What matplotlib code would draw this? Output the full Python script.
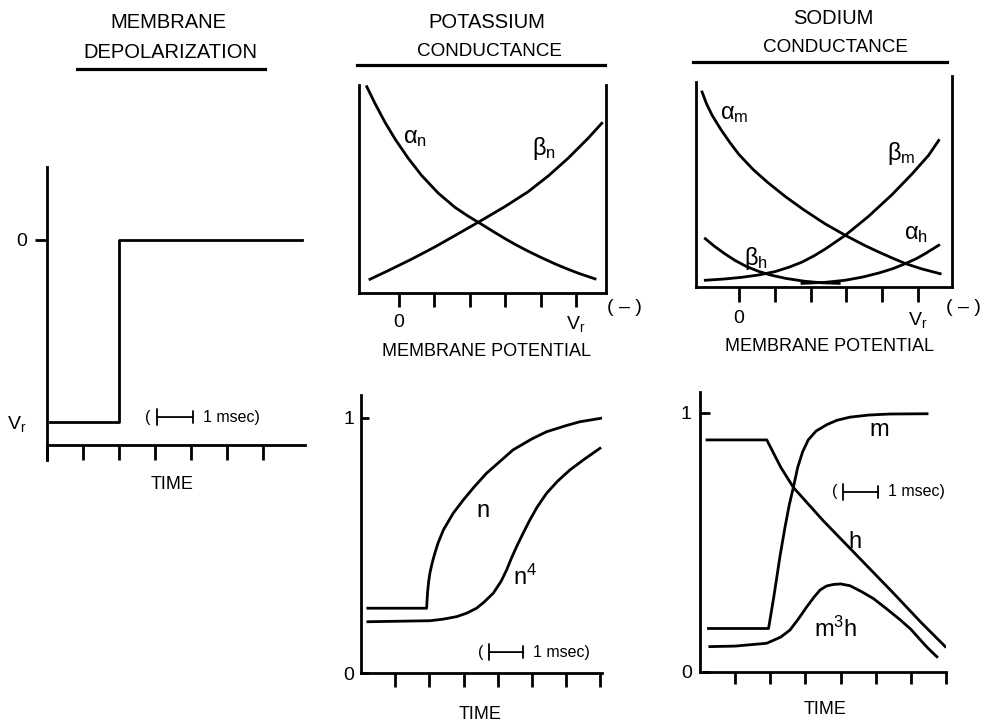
import matplotlib
matplotlib.use('Agg')
import matplotlib.pyplot as plt
from matplotlib.lines import Line2D

plt.rcParams['font.family'] = ['Liberation Sans', 'DejaVu Sans']
plt.rcParams['mathtext.fontset'] = 'custom'
plt.rcParams['mathtext.rm'] = 'Liberation Sans'
plt.rcParams['mathtext.it'] = 'Liberation Sans'
plt.rcParams['mathtext.bf'] = 'Liberation Sans:bold'

# ---------------- data ----------------
# Membrane depolarization (time in ticks, level: Vr=-1, 0=0)
dep_t = [0.08, 2.0, 7.08]
dep_v = [-1, 0, 0]

# Potassium rate constants vs membrane potential (tick units, 0 .. Vr=5)
an_x = [-0.91, -0.68, -0.40, -0.11, 0.26, 0.64, 1.11, 1.58, 1.95, 2.29, 2.65, 2.99, 3.3, 3.65, 4.0, 4.41, 4.75, 5.07, 5.54]
an_y = [0.992, 0.912, 0.822, 0.740, 0.648, 0.565, 0.480, 0.412, 0.370, 0.335, 0.297, 0.262, 0.232, 0.201, 0.172, 0.140, 0.116, 0.095, 0.068]
bn_x = [-0.82, -0.30, 0.36, 1.02, 1.58, 2.29, 2.99, 3.65, 4.22, 4.78, 5.35, 5.73]
bn_y = [0.066, 0.108, 0.163, 0.222, 0.276, 0.345, 0.415, 0.487, 0.563, 0.648, 0.745, 0.816]

# Sodium rate constants vs membrane potential
am_x = [-1.03, -0.9, -0.75, -0.5, -0.25, 0.0, 0.4, 0.8, 1.3, 1.8, 2.4, 2.97, 3.5, 3.9, 4.3, 4.65, 5.1, 5.62]
am_y = [0.924, 0.866, 0.814, 0.745, 0.684, 0.628, 0.556, 0.496, 0.428, 0.367, 0.300, 0.245, 0.198, 0.166, 0.136, 0.111, 0.086, 0.063]
bm_x = [-0.94, -0.4, 0.08, 0.55, 1.01, 1.4, 1.76, 2.1, 2.41, 2.97, 3.62, 4.27, 4.83, 5.30, 5.58]
bm_y = [0.032, 0.038, 0.046, 0.057, 0.073, 0.094, 0.118, 0.148, 0.180, 0.245, 0.335, 0.437, 0.535, 0.625, 0.695]
bh_x = [-0.94, -0.7, -0.4, -0.1, 0.2, 0.55, 0.9, 1.3, 1.8, 2.3, 2.8]
bh_y = [0.229, 0.195, 0.158, 0.125, 0.098, 0.074, 0.056, 0.041, 0.028, 0.020, 0.017]
ah_x = [1.76, 2.4, 2.97, 3.45, 3.9, 4.3, 4.65, 4.95, 5.2, 5.58]
ah_y = [0.017, 0.022, 0.032, 0.047, 0.066, 0.087, 0.111, 0.134, 0.158, 0.198]

# Potassium conductance time course
n_t = [0.2, 1.92, 1.93, 1.95, 1.98, 2.02, 2.08, 2.15, 2.25, 2.41, 2.7, 2.99, 3.3, 3.67, 4.0, 4.45, 5.0, 5.43, 6.0, 6.4, 7.03]
n_v = [0.254, 0.254, 0.28, 0.32, 0.36, 0.395, 0.43, 0.465, 0.508, 0.561, 0.627, 0.678, 0.728, 0.783, 0.822, 0.875, 0.918, 0.946, 0.970, 0.985, 0.999]
n4_t = [0.2, 2.02, 2.4, 2.8, 3.1, 3.38, 3.6, 3.87, 4.1, 4.26, 4.4, 4.55, 4.75, 4.94, 5.15, 5.43, 5.75, 6.11, 6.5, 6.99]
n4_v = [0.201, 0.205, 0.211, 0.221, 0.235, 0.254, 0.278, 0.313, 0.36, 0.404, 0.45, 0.495, 0.55, 0.600, 0.65, 0.705, 0.752, 0.796, 0.835, 0.881]

# Sodium conductance time course
m_t = [0.24, 1.95, 2.10, 2.28, 2.42, 2.54, 2.66, 2.78, 2.92, 3.08, 3.3, 3.61, 3.9, 4.27, 4.8, 5.4, 6.46]
m_v = [0.168, 0.168, 0.29, 0.45, 0.56, 0.645, 0.715, 0.790, 0.850, 0.896, 0.930, 0.955, 0.972, 0.984, 0.992, 0.996, 0.997]
h_t = [0.2, 1.90, 2.3, 2.66, 3.5, 4.5, 5.5, 6.3, 6.98]
h_v = [0.896, 0.896, 0.790, 0.712, 0.585, 0.445, 0.305, 0.190, 0.098]
m3h_t = [0.28, 1.0, 1.90, 2.3, 2.56, 2.8, 3.04, 3.25, 3.42, 3.6, 3.80, 4.0, 4.27, 4.6, 4.94, 5.3, 5.70, 6.0, 6.27, 6.5, 6.74]
m3h_v = [0.098, 0.100, 0.111, 0.135, 0.162, 0.205, 0.252, 0.290, 0.317, 0.332, 0.338, 0.340, 0.333, 0.310, 0.283, 0.245, 0.201, 0.165, 0.124, 0.090, 0.059]

time_ticks = [1, 2, 3, 4, 5, 6, 7]
pot_ticks = [0, 1, 2, 3, 4, 5]
pot_labels = ['0', '', '', '', '', r'$\mathrm{V}_\mathrm{r}$']

# ---------------- figure ----------------
W, H = 984, 725
fig = plt.figure(figsize=(9.84, 7.25), dpi=100)
LW = 2.0
K = 'black'
TICKFS = 14
LABFS = 13
CURVEFS = 17


def rect(x0, y0, x1, y1):
    return [x0 / W, 1 - y1 / H, (x1 - x0) / W, (y1 - y0) / H]


def style(ax, spines):
    for s in ['left', 'right', 'top', 'bottom']:
        ax.spines[s].set_visible(s in spines)
        ax.spines[s].set_linewidth(LW)
    ax.patch.set_alpha(0)


def scale_bar(ax, t0, v, fs=11.5):
    ax.text(t0 - 0.25, v, '(', fontsize=fs, ha='center', va='center')
    ax.annotate('', xy=(t0 + 1, v), xytext=(t0, v),
                arrowprops=dict(arrowstyle='|-|, widthA=0.55, widthB=0.45',
                                lw=1.3, color=K, shrinkA=0, shrinkB=0))
    ax.text(t0 + 1.27, v, '1 msec)', fontsize=fs, ha='left', va='center')


def title(x, y, s, fs=14.5):
    fig.text(x / W, 1 - y / H, s, fontsize=fs, ha='center', va='center')


def underline(x0, x1, y):
    fig.add_artist(Line2D([x0 / W, x1 / W], [1 - y / H, 1 - y / H], lw=2.3, color=K))


# Titles
title(168, 23, 'MEMBRANE')
title(170, 53, 'DEPOLARIZATION')
underline(77, 265, 69)
title(487, 23, 'POTASSIUM')
title(489, 51, 'CONDUCTANCE', 13.6)
underline(357, 605, 65)
title(833, 19, 'SODIUM')
title(835, 48, 'CONDUCTANCE', 13.6)
underline(693, 947, 62)

# ---- Panel 1: membrane depolarization ----
ax1 = fig.add_axes(rect(47, 167, 305, 460))
style(ax1, ['left', 'bottom'])
ax1.step(dep_t, dep_v, where='post', color=K, lw=LW)
ax1.set_xlim(0, 7.17)
ax1.set_ylim(-1.209, 0.401)
ax1.spines['bottom'].set_position(('data', -1.126))
ax1.set_xticks(range(0, 7))
ax1.set_xticklabels([])
ax1.tick_params(axis='x', direction='out', length=11, width=LW)
ax1.set_yticks([-1, 0])
ax1.set_yticklabels([r'$\mathrm{V}_\mathrm{r}$', '0'], fontsize=TICKFS)
ax1.tick_params(axis='y', direction='out', length=8.6, width=LW, pad=6)
ax1.yaxis.get_major_ticks()[0].tick1line.set_visible(False)
ax1.set_xlabel('TIME', fontsize=LABFS)
ax1.xaxis.set_label_coords(0.484, -0.053)
scale_bar(ax1, 3.06, -0.973)

# ---- Panel 2: potassium rate constants ----
ax2 = fig.add_axes(rect(359, 85, 606, 293))
style(ax2, ['left', 'right', 'bottom'])
ax2.plot(an_x, an_y, color=K, lw=LW)
ax2.plot(bn_x, bn_y, color=K, lw=LW)
ax2.set_xlim(-1.13, 5.85)
ax2.set_ylim(0, 1)
ax2.set_xticks(pot_ticks)
ax2.set_xticklabels(pot_labels, fontsize=TICKFS)
ax2.tick_params(axis='x', direction='out', length=10, width=LW, pad=5)
ax2.set_yticks([])
ax2.text(0.11, 0.72, r'$\alpha_\mathrm{n}$', fontsize=CURVEFS, ha='left', va='baseline')
ax2.text(3.76, 0.663, r'$\beta_\mathrm{n}$', fontsize=CURVEFS, ha='left', va='baseline')
ax2.text(6.38, -0.072, '( \u2013 )', fontsize=TICKFS, ha='center', va='center', clip_on=False)
ax2.set_xlabel('MEMBRANE POTENTIAL', fontsize=LABFS)
ax2.xaxis.set_label_coords(0.518, -0.24)

# ---- Panel 3: sodium rate constants ----
ax3 = fig.add_axes(rect(696, 76, 952, 287))
style(ax3, ['left', 'right', 'bottom'])
ax3.plot(am_x, am_y, color=K, lw=LW)
ax3.plot(bm_x, bm_y, color=K, lw=LW)
ax3.plot(bh_x, bh_y, color=K, lw=LW)
ax3.plot(ah_x, ah_y, color=K, lw=LW)
ax3.set_xlim(-1.2, 5.95)
ax3.set_ylim(0, 1)
ax3.spines['left'].set_bounds(0, 0.972)
ax3.set_xticks(pot_ticks)
ax3.set_xticklabels(pot_labels, fontsize=TICKFS)
ax3.tick_params(axis='x', direction='out', length=10.8, width=LW, pad=6)
ax3.set_yticks([])
ax3.text(-0.53, 0.796, r'$\alpha_\mathrm{m}$', fontsize=CURVEFS, ha='left', va='baseline')
ax3.text(4.13, 0.60, r'$\beta_\mathrm{m}$', fontsize=CURVEFS, ha='left', va='baseline')
ax3.text(4.60, 0.227, r'$\alpha_\mathrm{h}$', fontsize=CURVEFS, ha='left', va='baseline')
ax3.text(0.14, 0.104, r'$\beta_\mathrm{h}$', fontsize=CURVEFS, ha='left', va='baseline')
ax3.text(6.26, -0.095, '( \u2013 )', fontsize=TICKFS, ha='center', va='center', clip_on=False)
ax3.set_xlabel('MEMBRANE POTENTIAL', fontsize=LABFS)
ax3.xaxis.set_label_coords(0.523, -0.242)

# ---- Panel 4: potassium conductance vs time ----
ax4 = fig.add_axes(rect(361, 395, 602, 673))
style(ax4, ['left', 'bottom'])
ax4.plot(n_t, n_v, color=K, lw=LW)
ax4.plot(n4_t, n4_v, color=K, lw=LW)
ax4.set_xlim(0, 7.05)
ax4.set_ylim(0, 1.09)
ax4.set_xticks(time_ticks)
ax4.set_xticklabels([])
ax4.tick_params(axis='x', direction='out', length=10, width=LW)
ax4.set_yticks([0, 1])
ax4.set_yticklabels(['0', '1'], fontsize=TICKFS)
ax4.tick_params(axis='y', direction='in', length=6, width=LW, pad=5)
ax4.text(3.57, 0.612, 'n', fontsize=CURVEFS, ha='center', va='baseline')
ax4.text(4.8, 0.345, r'$\mathrm{n}^4$', fontsize=CURVEFS, ha='center', va='baseline')
scale_bar(ax4, 3.75, 0.082)
ax4.set_xlabel('TIME', fontsize=LABFS)
ax4.xaxis.set_label_coords(0.494, -0.117)

# ---- Panel 5: sodium conductance vs time ----
ax5 = fig.add_axes(rect(700, 392, 946, 672))
style(ax5, ['left', 'bottom'])
ax5.plot(m_t, m_v, color=K, lw=LW)
ax5.plot(h_t, h_v, color=K, lw=LW)
ax5.plot(m3h_t, m3h_v, color=K, lw=LW)
ax5.set_xlim(0, 7.0)
ax5.set_ylim(0, 1.081)
ax5.set_xticks(time_ticks)
ax5.set_xticklabels([])
ax5.tick_params(axis='x', direction='out', length=8.5, width=LW)
ax5.set_yticks([0, 1])
ax5.set_yticklabels(['0', '1'], fontsize=TICKFS)
ax5.tick_params(axis='y', direction='in', length=7, width=LW, pad=6)
ax5.text(5.10, 0.911, 'm', fontsize=CURVEFS, ha='center', va='baseline')
ax5.text(4.42, 0.479, 'h', fontsize=CURVEFS, ha='center', va='baseline')
ax5.text(3.87, 0.135, r'$\mathrm{m}^3\mathrm{h}$', fontsize=CURVEFS, ha='center', va='baseline')
scale_bar(ax5, 4.07, 0.695)
ax5.set_xlabel('TIME', fontsize=LABFS)
ax5.xaxis.set_label_coords(0.508, -0.102)

fig.savefig('out.png', dpi=100, facecolor='white')
